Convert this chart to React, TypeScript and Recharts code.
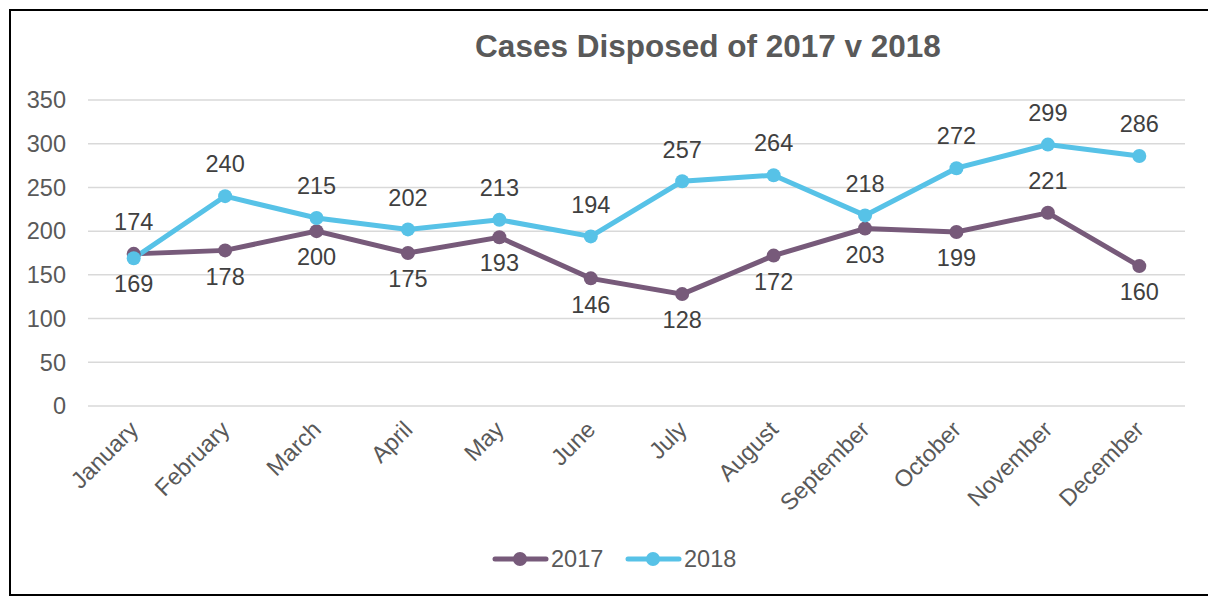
import React from 'react';
import { LineChart, Line, XAxis, YAxis, CartesianGrid } from 'recharts';

const MONTHS = ['January', 'February', 'March', 'April', 'May', 'June', 'July', 'August', 'September', 'October', 'November', 'December'];
const CASES_2017 = [174, 178, 200, 175, 193, 146, 128, 172, 203, 199, 221, 160];
const CASES_2018 = [169, 240, 215, 202, 213, 194, 257, 264, 218, 272, 299, 286];
// label above (true) or below (false) the point
const ABOVE_2017 = [true, false, false, false, false, false, false, false, false, false, true, false];
const ABOVE_2018 = [false, true, true, true, true, true, true, true, true, true, true, true];
const Y_TICKS = [0, 50, 100, 150, 200, 250, 300, 350];

const COLOR_2017 = '#775a7a';
const COLOR_2018 = '#57c2e7';
const FONT = '"Liberation Sans", Arial, sans-serif';

const data = MONTHS.map((m, i) => ({ month: m, y2017: CASES_2017[i], y2018: CASES_2018[i] }));

const makeLabel = (above: boolean[]) => (props: any) => {
  const { x, y, value, index } = props;
  const up = above[index];
  return (
    <text
      x={x}
      y={up ? y - 32 : y + 26}
      dy="0.35em"
      textAnchor="middle"
      fill="#404040"
      fontSize={23.5}
      fontFamily={FONT}
    >
      {value}
    </text>
  );
};

const MonthTick = (props: any) => {
  const { x, y, payload } = props;
  return (
    <g transform={`translate(${x + 6},${y + 25})`}>
      <text x={0} y={0} textAnchor="end" transform="rotate(-45)" fill="#595959" fontSize={23.5} fontFamily={FONT}>
        {payload.value}
      </text>
    </g>
  );
};

const Legend2 = () => {
  const items = [
    { name: '2017', color: COLOR_2017, x: 493 },
    { name: '2018', color: COLOR_2018, x: 626 },
  ];
  return (
    <svg width={1208} height={40} style={{ position: 'absolute', left: 0, top: 540 }}>
      {items.map((it) => (
        <g key={it.name}>
          <line x1={it.x + 2} x2={it.x + 53} y1={19} y2={19} stroke={it.color} strokeWidth={5} strokeLinecap="round" />
          <circle cx={it.x + 27} cy={19} r={7} fill={it.color} />
          <text x={it.x + 58} y={19} dy="0.35em" fill="#595959" fontSize={23.5} fontFamily={FONT}>
            {it.name}
          </text>
        </g>
      ))}
    </svg>
  );
};

export default function App() {
  return (
    <div style={{ position: 'absolute', left: 0, top: 0, width: 1208, height: 599, background: '#fff', overflow: 'hidden' }}>
      <div
        style={{
          position: 'absolute',
          left: 9,
          top: 9,
          width: 1220,
          height: 587,
          border: '2px solid #000',
          boxSizing: 'border-box',
        }}
      />
      <div
        style={{
          position: 'absolute',
          left: 0,
          top: 27,
          width: 1416,
          textAlign: 'center',
          fontFamily: FONT,
          fontWeight: 'bold',
          fontSize: 31.5,
          color: '#595959',
          lineHeight: '38px',
        }}
      >
        Cases Disposed of 2017 v 2018
      </div>
      <div style={{ position: 'absolute', left: 0, top: 0 }}>
        <LineChart width={1208} height={599} data={data} margin={{ top: 100, right: 23, left: 0, bottom: 93 }}>
          <CartesianGrid vertical={false} stroke="#d9d9d9" strokeWidth={1.5} />
          <XAxis
            dataKey="month"
            axisLine={false}
            tickLine={false}
            tickSize={0}
            tickMargin={0}
            interval={0}
            tick={<MonthTick />}
            height={100}
            padding={{ left: 45.7, right: 45.7 }}
          />
          <YAxis
            domain={[0, 350]}
            ticks={Y_TICKS}
            width={88}
            axisLine={false}
            tickLine={false}
            tickSize={0}
            tickMargin={22}
            tick={{ fill: '#595959', fontSize: 23.5, fontFamily: FONT }}
          />
          <Line
            dataKey="y2017"
            stroke={COLOR_2017}
            strokeWidth={5}
            dot={{ r: 7, fill: COLOR_2017, stroke: 'none' }}
            activeDot={false}
            isAnimationActive={false}
            label={makeLabel(ABOVE_2017)}
          />
          <Line
            dataKey="y2018"
            stroke={COLOR_2018}
            strokeWidth={5}
            dot={{ r: 7, fill: COLOR_2018, stroke: 'none' }}
            activeDot={false}
            isAnimationActive={false}
            label={makeLabel(ABOVE_2018)}
          />
        </LineChart>
      </div>
      <Legend2 />
    </div>
  );
}
